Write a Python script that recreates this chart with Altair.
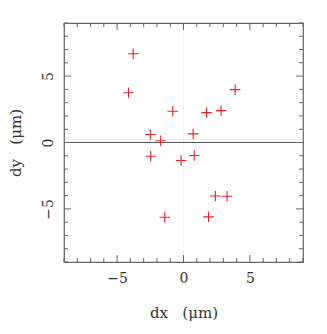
import altair as alt
import pandas as pd

dx = [-3.79, -4.14, 3.89, -0.81, 1.74, 2.83, -2.50, 0.73, -1.72, -2.47, 0.81, -0.18, 2.40, 3.28, -1.41, 1.89]
dy = [6.68, 3.75, 3.98, 2.35, 2.25, 2.40, 0.60, 0.65, 0.13, -1.03, -0.98, -1.35, -4.03, -4.05, -5.63, -5.60]
major_ticks = [-5, 0, 5]
minor_ticks = [-9, -8, -7, -6, -4, -3, -2, -1, 1, 2, 3, 4, 6, 7, 8, 9]

W, H = 239, 239
FONT = "DejaVu Serif"
GRAY = "#666666"
SP = "\u00a0\u00a0\u00a0"

pts = pd.DataFrame({"dx": dx, "dy": dy})
maj = pd.DataFrame({"v": major_ticks})
mino = pd.DataFrame({"v": minor_ticks})

xs = alt.Scale(domain=[-9, 9], nice=False, zero=False)
ys = alt.Scale(domain=[-9, 9], nice=False, zero=False)

xaxis = alt.Axis(values=major_ticks, ticks=False, domain=False, grid=False,
                 labelFont=FONT, labelFontSize=14, labelColor="#333", labelPadding=9,
                 title="dx" + SP + "(μm)", titleFont=FONT, titleFontSize=15, titleFontWeight="normal",
                 titleColor="#333", titlePadding=20,
                 labelExpr="datum.value < 0 ? '−' + abs(datum.value) : datum.label")
yaxis = alt.Axis(values=major_ticks, ticks=False, domain=False, grid=False,
                 labelFont=FONT, labelFontSize=14, labelColor="#333", labelPadding=9,
                 labelAngle=270, labelAlign="center", labelBaseline="bottom",
                 title="dy" + SP + "(μm)", titleFont=FONT, titleFontSize=15, titleFontWeight="normal",
                 titleColor="#333", titlePadding=18,
                 labelExpr="datum.value < 0 ? '−' + abs(datum.value) : datum.label")

points = alt.Chart(pts).mark_point(shape="M-1,0L1,0M0,-1L0,1", filled=False, color="#e8202a",
                                   size=110, strokeWidth=1.1, opacity=1).encode(
    x=alt.X("dx:Q", scale=xs, axis=xaxis),
    y=alt.Y("dy:Q", scale=ys, axis=yaxis),
)

zero_h = alt.Chart(pd.DataFrame({"v": [0]})).mark_rule(color="#555555", strokeWidth=1).encode(
    y=alt.Y("v:Q", scale=ys))
zero_v = alt.Chart(pd.DataFrame({"v": [0]})).mark_rule(color="#f2f2f2", strokeWidth=1).encode(
    x=alt.X("v:Q", scale=xs))

def xticks(df, L):
    b = alt.Chart(df).mark_rule(color=GRAY, strokeWidth=1).encode(
        x=alt.X("v:Q", scale=xs), y=alt.value(H), y2=alt.value(H - L))
    t = alt.Chart(df).mark_rule(color=GRAY, strokeWidth=1).encode(
        x=alt.X("v:Q", scale=xs), y=alt.value(0), y2=alt.value(L))
    return [b, t]

def yticks(df, L):
    l = alt.Chart(df).mark_rule(color=GRAY, strokeWidth=1).encode(
        y=alt.Y("v:Q", scale=ys), x=alt.value(0), x2=alt.value(L))
    r = alt.Chart(df).mark_rule(color=GRAY, strokeWidth=1).encode(
        y=alt.Y("v:Q", scale=ys), x=alt.value(W), x2=alt.value(W - L))
    return [l, r]

layers = [zero_v, zero_h] + xticks(mino, 4) + xticks(maj, 7) + yticks(mino, 4) + yticks(maj, 7) + [points]

chart = alt.layer(*layers).properties(
    width=W, height=H,
    autosize=alt.AutoSizeParams(type="none"),
    padding={"left": 56, "top": 15, "right": 16, "bottom": 64},
).configure_view(stroke=GRAY, strokeWidth=1.2)

chart.save("out.html", embed_options={"renderer": "svg", "actions": False})
